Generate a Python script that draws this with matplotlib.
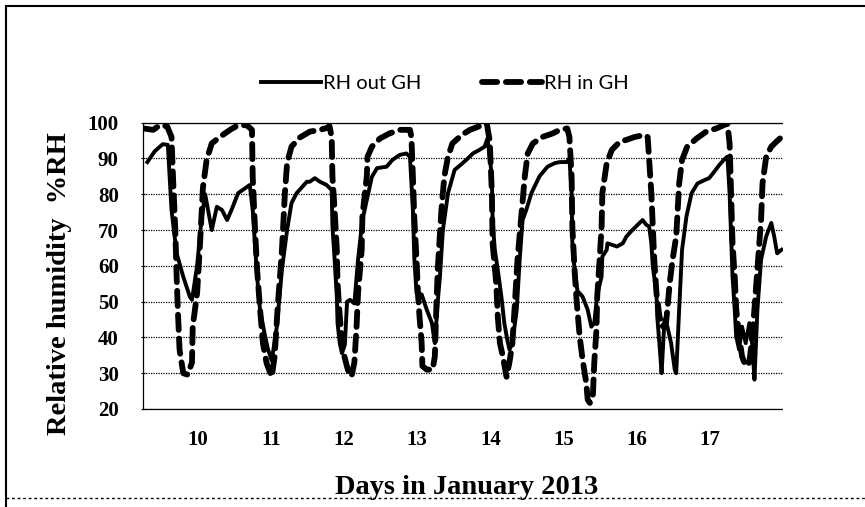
import matplotlib
matplotlib.use('Agg')
import matplotlib.pyplot as plt
from matplotlib.lines import Line2D

# RH outside greenhouse (solid), x in days of January 2013
out_days = [9.31, 9.41, 9.52, 9.59, 9.64, 9.71, 9.80, 9.89, 9.92, 9.99, 10.05, 10.10, 10.14, 10.19,
            10.26, 10.33, 10.40, 10.46, 10.55, 10.67, 10.71, 10.75, 10.81, 10.85, 10.92, 10.96, 11.01,
            11.08, 11.15, 11.22, 11.28, 11.35, 11.39, 11.49, 11.53, 11.60, 11.67, 11.76, 11.83, 11.84,
            11.87, 11.90, 11.91, 11.94, 11.97, 12.01, 12.04, 12.08, 12.14, 12.19, 12.25, 12.32, 12.38,
            12.45, 12.58, 12.66, 12.76, 12.85, 12.90, 12.94, 12.96, 12.99, 13.06, 13.13, 13.20, 13.24,
            13.28, 13.31, 13.35, 13.42, 13.51, 13.58, 13.67, 13.76, 13.85, 13.92, 13.96, 14.02, 14.03,
            14.06, 14.10, 14.15, 14.19, 14.23, 14.26, 14.30, 14.36, 14.40, 14.44, 14.49, 14.56, 14.67,
            14.78, 14.88, 14.95, 15.04, 15.08, 15.11, 15.12, 15.15, 15.19, 15.26, 15.33, 15.38, 15.42,
            15.46, 15.52, 15.53, 15.59, 15.60, 15.73, 15.81, 15.86, 15.94, 16.01, 16.08, 16.13, 16.17,
            16.20, 16.22, 16.27, 16.28, 16.31, 16.34, 16.38, 16.42, 16.47, 16.52, 16.54, 16.58, 16.62,
            16.68, 16.75, 16.83, 16.93, 16.99, 17.06, 17.13, 17.19, 17.24, 17.27, 17.29, 17.31, 17.34,
            17.36, 17.40, 17.44, 17.49, 17.54, 17.58, 17.61, 17.65, 17.70, 17.77, 17.84, 17.88, 17.92,
            17.98]
out_rh = [89, 92, 94, 93.8, 75.6, 63.5, 57, 51.4, 50.5, 60, 73, 80, 75.6, 70,
          76.5, 75.6, 72.8, 75.6, 80.3, 82, 82.6, 75.6, 57, 47.7, 40.3, 36.6, 33.5,
          43, 59, 70, 77.5, 80.3, 81.2, 83.5, 83.5, 84.5, 83.5, 82.6, 81.2, 71,
          61.7, 51.4, 44, 38.4, 35.6, 38, 50, 50.5, 49.5, 61.7, 72.8, 79.3, 84.9,
          87.3, 87.7, 89.6, 91, 91.4, 90.5, 75.6, 61.7, 52.4, 52, 47.7, 44, 38.4,
          50, 57, 70, 80.3, 86.8, 88, 89.6, 91.4, 92.4, 93.3, 95.6, 85, 72.8,
          64.5, 59, 51.4, 44, 39.4, 36.6, 38.4, 47.7, 61.7, 72.8, 75.6, 80.3, 85,
          87.7, 88.7, 89, 89, 90, 80.3, 66.3, 59, 53, 51.4, 47.7, 43, 44,
          52, 57, 62.6, 64.5, 66.3, 65.4, 66.3, 68.2, 70, 71.4, 72.8, 71.5, 71,
          66.3, 59.8, 52.4, 46, 38.4, 30, 45, 43, 38.4, 31, 30, 47.7, 64.5,
          73.8, 80.3, 83, 84, 84.5, 86.3, 88.2, 89.6, 90.5, 80.3, 68.2, 57, 47.7,
          40.3, 36.6, 43, 38.4, 44, 38, 28.2, 47.7, 61.7, 68.2, 72, 68.2, 63.5,
          64.5]

# RH inside greenhouse (dashed)
in_days = [9.25, 9.39, 9.48, 9.58, 9.64, 9.66, 9.69, 9.71, 9.73, 9.75, 9.80, 9.86, 9.92, 9.93,
           9.99, 10.03, 10.07, 10.12, 10.19, 10.30, 10.44, 10.55, 10.67, 10.74, 10.75, 10.78, 10.81,
           10.85, 10.89, 10.94, 11.01, 11.05, 11.09, 11.15, 11.19, 11.22, 11.28, 11.39, 11.53, 11.67,
           11.76, 11.80, 11.83, 11.84, 11.87, 11.90, 11.91, 11.94, 11.98, 12.05, 12.10, 12.14, 12.17,
           12.19, 12.24, 12.25, 12.31, 12.32, 12.38, 12.49, 12.62, 12.76, 12.90, 12.92, 12.94, 12.96,
           12.99, 13.01, 13.03, 13.06, 13.07, 13.13, 13.21, 13.24, 13.26, 13.28, 13.33, 13.37, 13.42,
           13.48, 13.61, 13.72, 13.85, 13.95, 13.99, 14.02, 14.03, 14.08, 14.10, 14.13, 14.17, 14.22,
           14.26, 14.30, 14.33, 14.37, 14.43, 14.47, 14.51, 14.58, 14.71, 14.85, 14.95, 15.05, 15.08,
           15.11, 15.12, 15.15, 15.18, 15.22, 15.26, 15.31, 15.33, 15.36, 15.40, 15.42, 15.45, 15.46,
           15.49, 15.52, 15.53, 15.59, 15.66, 15.77, 15.86, 15.97, 16.11, 16.15, 16.17, 16.20, 16.22,
           16.24, 16.27, 16.31, 16.35, 16.40, 16.42, 16.45, 16.49, 16.54, 16.56, 16.58, 16.62, 16.69,
           16.82, 16.95, 17.09, 17.19, 17.24, 17.27, 17.29, 17.31, 17.34, 17.36, 17.40, 17.44, 17.49,
           17.54, 17.57, 17.61, 17.65, 17.70, 17.72, 17.77, 17.84, 17.91, 17.98]
in_rh = [98.4, 98, 99.3, 99, 96, 85, 71, 57, 46, 36.6, 30, 29.6, 33, 43,
         52.4, 66.3, 82, 89.6, 94.2, 96, 98, 99.3, 99.3, 98, 85, 71, 59,
         48, 38.4, 32.8, 29, 34.7, 48, 64.5, 80.3, 88.7, 93.3, 95.8, 97.5, 98,
         98.5, 99, 96, 85, 75.6, 64.5, 55, 46, 36.6, 31, 29, 33, 43,
         52.4, 64.5, 74, 85, 90.5, 93.3, 95.6, 97, 98, 98, 96, 85, 73,
         61.7, 52, 46, 38.4, 32, 31, 31, 34.7, 48, 59, 75.6, 85, 90.5,
         94.2, 96.6, 98, 99, 99.8, 95, 80.3, 66.3, 55, 46, 38.4, 34.7, 29,
         33, 38.4, 48, 61.7, 75.6, 85, 91.4, 94.2, 96, 97, 98, 98.4, 96,
         85, 71, 59, 49.8, 40.3, 33.8, 27.3, 22.6, 21.7, 23.5, 33, 42.3, 51.4,
         60.7, 71, 80.3, 88.7, 92.4, 94.7, 95.2, 96, 96.6, 96, 89.6, 80.3, 71,
         61.7, 52.4, 46, 43, 44, 48, 55, 61.7, 68.2, 75.6, 83, 89.6, 93.3,
         95.6, 97.5, 98.4, 99.3, 99.8, 94.2, 80.3, 66.3, 57, 48, 40.3, 34.7, 32,
         33, 38.4, 48, 59, 72.8, 83, 90.5, 93.3, 94.7, 96]

day_ticks = [10, 11, 12, 13, 14, 15, 16, 17]
rh_ticks = [20, 30, 40, 50, 60, 70, 80, 90, 100]

serif = 'Liberation Serif'

fig = plt.figure(figsize=(8.65, 5.07), dpi=100)
ax = fig.add_axes([0.1653, 0.1933, 0.7399, 0.5647])

ax.plot(out_days, out_rh, color='black', lw=2.8, label='RH out GH')
ax.plot(in_days, in_rh, color='black', lw=4.2, linestyle=(0, (2.6, 1.5)),
        dash_capstyle='round', label='RH in GH')

ax.set_xlim(9.25, 18.0)
ax.set_ylim(20, 100)
ax.set_xticks(day_ticks)
ax.set_yticks(rh_ticks)
ax.grid(axis='y', color='black', linestyle=(0, (1, 1)), lw=0.9)
ax.set_axisbelow(True)

ax.spines['right'].set_visible(False)
for side in ['left', 'top', 'bottom']:
    ax.spines[side].set_linestyle((0, (1, 1)))
    ax.spines[side].set_linewidth(0.9)

ax.tick_params(axis='x', length=0, pad=15)
ax.tick_params(axis='y', length=3, direction='inout', pad=16)
for lab in ax.get_xticklabels() + ax.get_yticklabels():
    lab.set_fontfamily(serif)
    lab.set_fontweight('bold')
    lab.set_fontsize(15)

fig.text(60 / 865, 1 - 284 / 507, 'Relative humidity  %RH', rotation=90,
         ha='center', va='center', fontfamily=serif, fontweight='bold', fontsize=20.5)
fig.text(467 / 865, 1 - 487 / 507, 'Days in January 2013',
         ha='center', va='center', fontfamily=serif, fontweight='bold', fontsize=20.5)

ax.legend(loc='center', bbox_to_anchor=(445 / 865, 1 - 83 / 507),
          bbox_transform=fig.transFigure, ncol=2, frameon=False,
          prop={'family': 'Lato', 'size': 14.5}, handlelength=3.0,
          columnspacing=3.0, handletextpad=0.1)

# outer chart frame
fig.add_artist(Line2D([6 / 865, 1], [1 - 6 / 507, 1 - 6 / 507], color='black', lw=1.5))
fig.add_artist(Line2D([6 / 865, 6 / 865], [0, 1 - 6 / 507], color='black', lw=1.5))
fig.add_artist(Line2D([6 / 865, 1], [1 - 498 / 507, 1 - 498 / 507], color='black',
                      lw=1, linestyle=(0, (2, 2))))

fig.savefig('out.png', dpi=100)
